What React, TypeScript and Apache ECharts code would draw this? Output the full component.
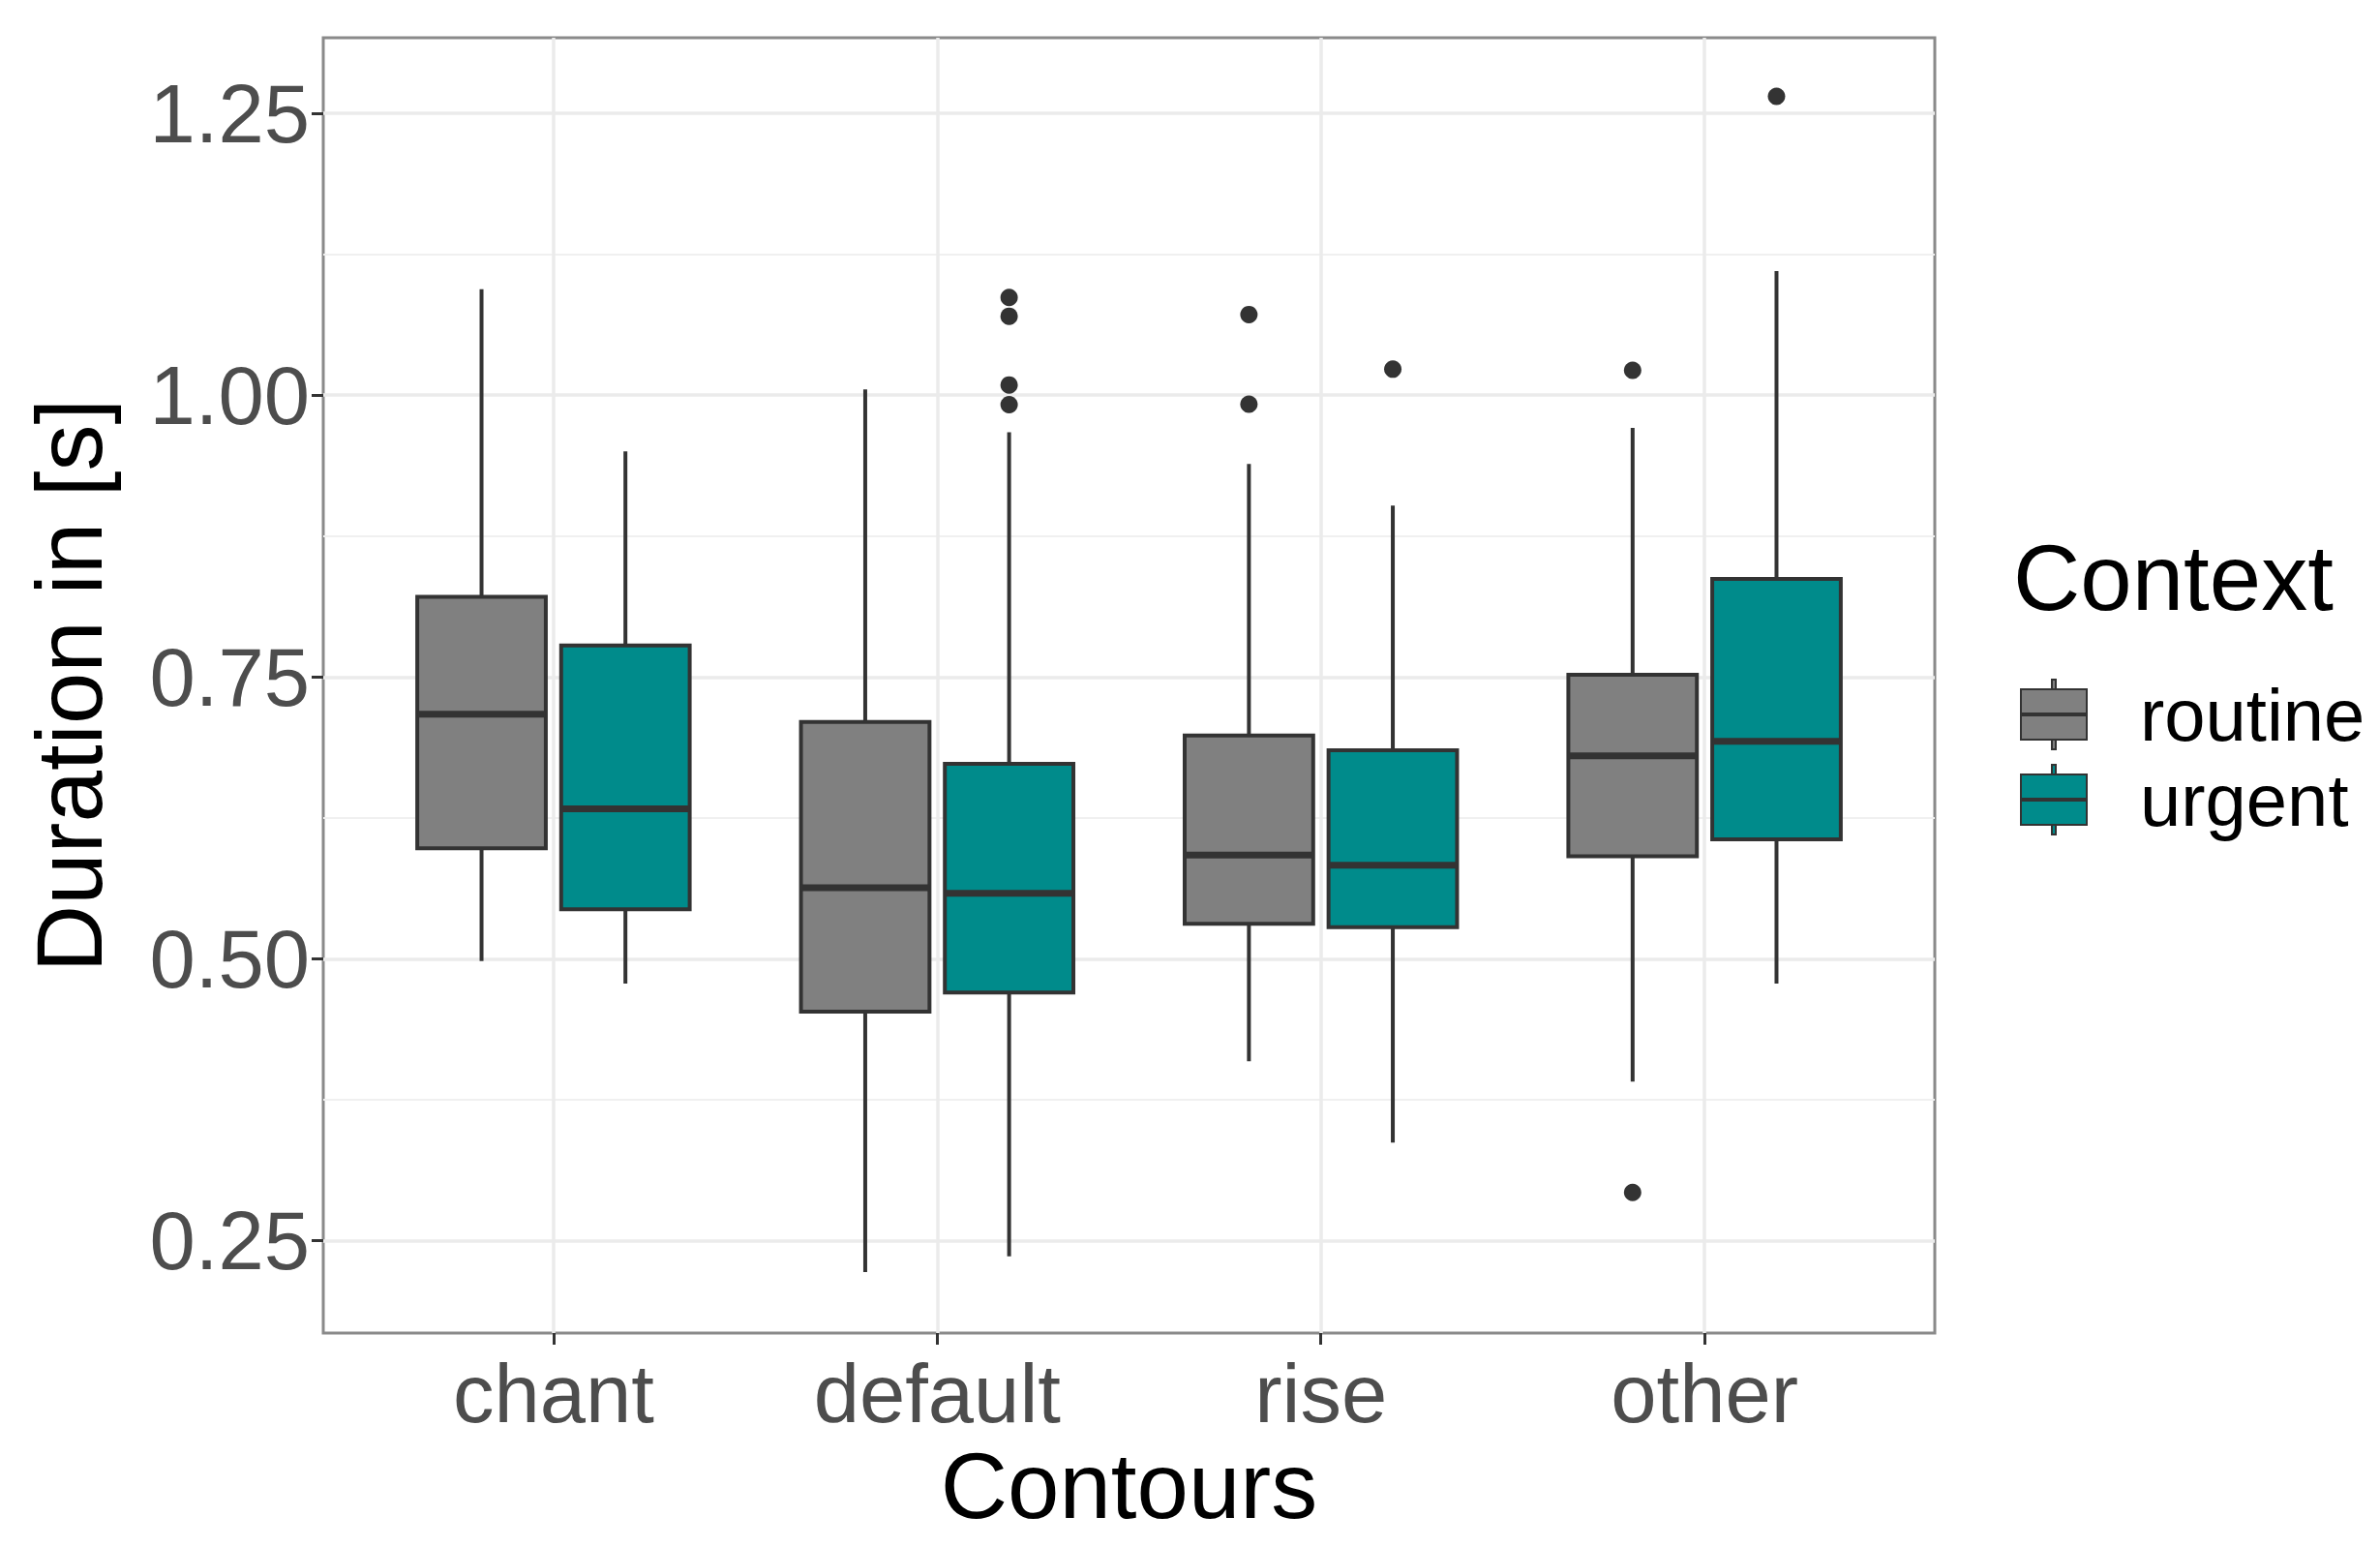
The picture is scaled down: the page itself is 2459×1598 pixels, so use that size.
import React, { useEffect, useRef } from "react";
import * as echarts from "echarts";

const categories = ["chant", "default", "rise", "other"];
const contexts = ["routine", "urgent"];
// each box: [lower whisker, Q1, median, Q3, upper whisker]
const routineBoxes = [
  [0.498, 0.598, 0.717, 0.821, 1.094],
  [0.222, 0.453, 0.563, 0.71, 1.005],
  [0.409, 0.531, 0.592, 0.698, 0.939],
  [0.391, 0.591, 0.68, 0.752, 0.971],
];
const urgentBoxes = [
  [0.478, 0.544, 0.633, 0.778, 0.95],
  [0.236, 0.47, 0.558, 0.673, 0.967],
  [0.337, 0.528, 0.583, 0.685, 0.902],
  [0.478, 0.606, 0.693, 0.837, 1.11],
];
// outliers: [category index, value]
const routineOutliers = [
  [2, 1.0715],
  [2, 0.992],
  [3, 1.022],
  [3, 0.2927],
];
const urgentOutliers = [
  [1, 1.0866],
  [1, 1.07],
  [1, 1.009],
  [1, 0.9915],
  [2, 1.023],
  [3, 1.265],
];
const xTicks = [0, 1, 2, 3];
const yTicks = [0.25, 0.5, 0.75, 1.0, 1.25];
const yMinorTicks = [0.375, 0.625, 0.875, 1.125];
const xMin = -0.6;
const xMax = 3.6;
const yMin = 0.168;
const yMax = 1.317;

const FONT = "'Liberation Sans', Arial, Helvetica, sans-serif";
const FILLS: Record<string, string> = { routine: "#808080", urgent: "#008b8b" };
const LINE = "#333333";
const OFFSET = 0.1875;
const BOXW = 0.335;

const LEGEND_ICON =
  "path://M32 0 L36 0 L36 10 L32 10 Z M0 10 L68 10 L68 62 L0 62 Z M0 35 L68 35 L68 37 L0 37 Z M32 62 L36 62 L36 72 L32 72 Z";

function boxRenderer(offsetFrac: number, fill: string) {
  return (params: any, api: any) => {
    const cat = api.value(0);
    const low = api.value(1);
    const q1 = api.value(2);
    const med = api.value(3);
    const q3 = api.value(4);
    const high = api.value(5);
    const bw = api.size([1, 0])[0];
    const cx = api.coord([cat, med])[0] + offsetFrac * bw;
    const half = (BOXW * bw) / 2;
    const yLow = api.coord([cat, low])[1];
    const yQ1 = api.coord([cat, q1])[1];
    const yMed = api.coord([cat, med])[1];
    const yQ3 = api.coord([cat, q3])[1];
    const yHigh = api.coord([cat, high])[1];
    return {
      type: "group",
      children: [
        { type: "line", shape: { x1: cx, y1: yHigh, x2: cx, y2: yQ3 }, style: { stroke: LINE, lineWidth: 4 } },
        { type: "line", shape: { x1: cx, y1: yQ1, x2: cx, y2: yLow }, style: { stroke: LINE, lineWidth: 4 } },
        {
          type: "rect",
          shape: { x: cx - half, y: yQ3, width: 2 * half, height: yQ1 - yQ3 },
          style: { fill, stroke: LINE, lineWidth: 4 },
        },
        {
          type: "line",
          shape: { x1: cx - half, y1: yMed, x2: cx + half, y2: yMed },
          style: { stroke: LINE, lineWidth: 7 },
        },
      ],
    };
  };
}

function outlierRenderer(offsetFrac: number) {
  return (params: any, api: any) => {
    const cat = api.value(0);
    const v = api.value(1);
    const bw = api.size([1, 0])[0];
    const p = api.coord([cat, v]);
    return {
      type: "circle",
      shape: { cx: p[0] + offsetFrac * bw, cy: p[1], r: 9 },
      style: { fill: LINE },
    };
  };
}

export default function App() {
  const ref = useRef<HTMLDivElement>(null);
  useEffect(() => {
    if (!ref.current) return;
    const chart = echarts.init(ref.current, null, { renderer: "svg" });
    const option: any = {
      animation: false,
      backgroundColor: "#ffffff",
      textStyle: { fontFamily: FONT },
      grid: {
        left: 334,
        right: 460,
        top: 39,
        bottom: 221,
        show: true,
        backgroundColor: "#ffffff",
        borderColor: "#8a8a8a",
        borderWidth: 3,
      },
      title: {
        text: "Context",
        left: 2080,
        top: 548,
        padding: 0,
        textStyle: { fontFamily: FONT, fontSize: 96, fontWeight: "normal", color: "#000000" },
      },
      legend: {
        orient: "vertical",
        left: 2087,
        top: 700,
        padding: 0,
        itemWidth: 68,
        itemHeight: 72,
        itemGap: 12,
        selectedMode: false,
        data: contexts.map((c) => ({ name: c, icon: LEGEND_ICON })),
        textStyle: { fontFamily: FONT, fontSize: 76, color: "#000000", padding: [0, 0, 0, 50] },
      },
      xAxis: [
        {
          type: "value",
          min: xMin,
          max: xMax,
          name: "Contours",
          nameLocation: "middle",
          nameGap: 108,
          nameTextStyle: { fontFamily: FONT, fontSize: 96, color: "#000000" },
          axisLine: { show: false, onZero: false },
          axisTick: { show: true, length: 12, customValues: xTicks, lineStyle: { color: LINE, width: 3 } },
          axisLabel: {
            fontFamily: FONT,
            fontSize: 85,
            color: "#4d4d4d",
            margin: 20,
            customValues: xTicks,
            formatter: (v: number) => categories[Math.round(v)] ?? "",
          },
          splitLine: { show: true, lineStyle: { color: "#ebebeb", width: 3.5 } },
        },
      ],
      yAxis: [
        {
          type: "value",
          min: yMin,
          max: yMax,
          name: "Duration in [s]",
          nameLocation: "middle",
          nameGap: 215,
          nameRotate: 90,
          nameTextStyle: { fontFamily: FONT, fontSize: 96, color: "#000000" },
          axisLine: { show: false, onZero: false },
          axisTick: { show: true, length: 12, customValues: yTicks, lineStyle: { color: LINE, width: 3 } },
          axisLabel: {
            fontFamily: FONT,
            fontSize: 85,
            color: "#4d4d4d",
            margin: 14,
            customValues: yTicks,
            formatter: (v: number) => v.toFixed(2),
          },
          splitLine: { show: true, lineStyle: { color: "#ebebeb", width: 3.5 } },
        },
        {
          type: "value",
          min: yMin,
          max: yMax,
          axisLine: { show: false, onZero: false },
          axisTick: { show: false, customValues: yMinorTicks },
          axisLabel: { show: false, customValues: yMinorTicks },
          splitLine: { show: true, lineStyle: { color: "#f0f0f0", width: 2 } },
        },
      ],
      series: [
        {
          name: "routine",
          type: "custom",
          xAxisIndex: 0,
          yAxisIndex: 0,
          itemStyle: { color: FILLS.routine, borderColor: LINE, borderWidth: 3 },
          encode: { x: 0, y: [1, 2, 3, 4, 5] },
          data: routineBoxes.map((b, i) => [i, ...b]),
          renderItem: boxRenderer(-OFFSET, FILLS.routine),
          z: 3,
        },
        {
          name: "urgent",
          type: "custom",
          xAxisIndex: 0,
          yAxisIndex: 0,
          itemStyle: { color: FILLS.urgent, borderColor: LINE, borderWidth: 3 },
          encode: { x: 0, y: [1, 2, 3, 4, 5] },
          data: urgentBoxes.map((b, i) => [i, ...b]),
          renderItem: boxRenderer(OFFSET, FILLS.urgent),
          z: 3,
        },
        {
          name: "routine outliers",
          type: "custom",
          xAxisIndex: 0,
          yAxisIndex: 0,
          encode: { x: 0, y: 1 },
          data: routineOutliers,
          renderItem: outlierRenderer(-OFFSET),
          z: 4,
        },
        {
          name: "urgent outliers",
          type: "custom",
          xAxisIndex: 0,
          yAxisIndex: 0,
          encode: { x: 0, y: 1 },
          data: urgentOutliers,
          renderItem: outlierRenderer(OFFSET),
          z: 4,
        },
      ],
    };
    chart.setOption(option);
    return () => chart.dispose();
  }, []);
  return (
    <div
      ref={ref}
      style={{ position: "fixed", left: 0, top: 0, width: 2459, height: 1598, background: "#fff" }}
    />
  );
}
